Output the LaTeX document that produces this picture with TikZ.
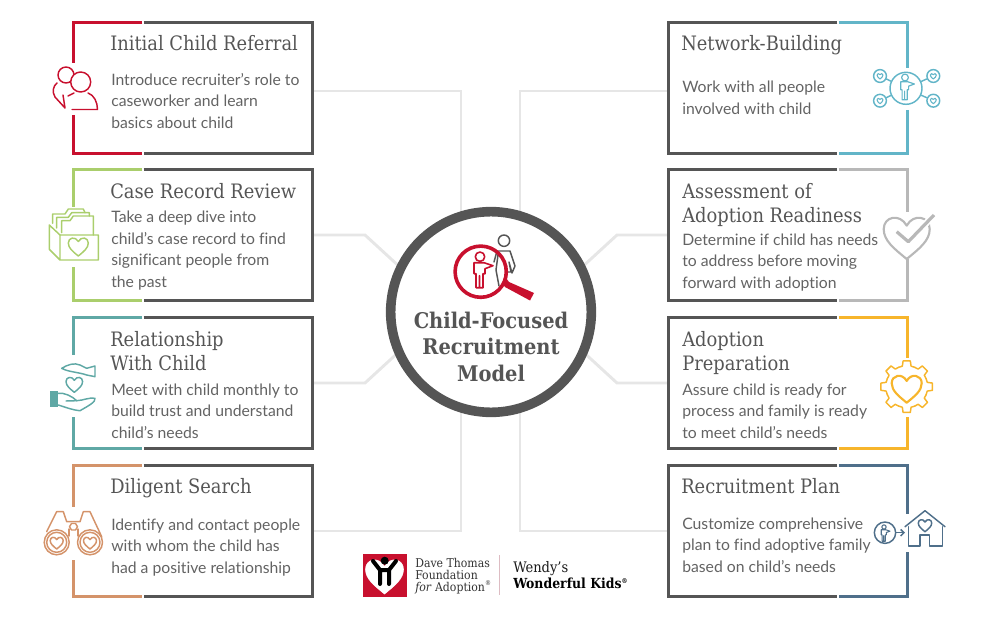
\documentclass[tikz,border=0pt]{standalone}
\usepackage{fontspec}
\usetikzlibrary{backgrounds, arrows.meta}
\setmainfont[Ligatures=NoCommon]{Lato}
\newfontfamily\slabfont{DejaVu Serif Condensed}

\definecolor{inkgray}{HTML}{555555}
\definecolor{textgray}{HTML}{636363}
\definecolor{linkgray}{HTML}{E6E6E6}
\definecolor{cardred}{HTML}{C8102E}
\definecolor{cardgreen}{HTML}{AACE6C}
\definecolor{cardteal}{HTML}{5FA8A5}
\definecolor{cardorange}{HTML}{D4936A}
\definecolor{cardblue}{HTML}{62B5C8}
\definecolor{cardsilver}{HTML}{B8B8B8}
\definecolor{cardyellow}{HTML}{F7B52B}
\definecolor{cardslate}{HTML}{4F6F8A}
\definecolor{rulepink}{HTML}{DDBCC3}

\tikzset{
  card/.style={minimum width=179.25pt, minimum height=97.5pt, inner sep=0pt},
  edge/.style={line width=2.2pt},
  link/.style={line width=2.2pt, draw=linkgray},
  hub/.style={circle, draw=inkgray, fill=white, line width=7.2pt, minimum size=150.5pt},
  cardhead/.style={anchor=base west, inner sep=0pt, align=left, text=inkgray, font=\slabfont\fontsize{14.9}{18}\selectfont},
  cardtext/.style={anchor=base west, inner sep=0pt, align=left, text=textgray, font=\fontsize{11.8}{16.1}\selectfont},
  icon/.style={line width=1.1pt, line join=round, line cap=round},
  sat/.style={circle, draw=cardblue, fill=white, line width=1.1pt, minimum size=9.6pt, inner sep=0pt},
  heart/.pic={
    \draw[pic actions] (0,1) .. controls (-.55,.55) and (-1,.2) .. (-1,-.3) .. controls (-1,-.85) and (-.3,-1) .. (0,-.45) .. controls (.3,-1) and (1,-.85) .. (1,-.3) .. controls (1,.2) and (.55,.55) .. (0,1) -- cycle;
  },
  kid/.pic={
    \draw[pic actions] (0,0) circle (4.7);
    \draw[pic actions] (-6,17) -- (-6,6) -- (4,6) -- (13,9) -- (5,12) -- (5,17) -- (3,17) -- (3,31) -- (-4,31) -- (-4,17) -- cycle (-.5,19) -- (-.5,31);
  }
}

\begin{document}
\begin{tikzpicture}[x=.75pt, y=-.75pt]
\useasboundingbox (0,0) rectangle (1000,617);

% Cards on the left and on the right
\node[card] (referral) at (193,88) {};
\node[card] (review) at (193,235) {};
\node[card] (relation) at (193,383) {};
\node[card] (search) at (193,531) {};
\node[card] (network) at (788,88) {};
\node[card] (readiness) at (788,235) {};
\node[card] (preparation) at (788,383) {};
\node[card] (plan) at (788,531) {};

\coordinate (lsplit) at (143,0);
\coordinate (rsplit) at (838,0);

% Two-coloured frames, the coloured side stops around the icon
\foreach \n/\c/\a/\b in {referral/cardred/63/115, review/cardgreen/207/267, relation/cardteal/355/417, search/cardorange/507/560} {
  \draw[edge, draw=inkgray, shorten <=.5pt, shorten >=.5pt] (lsplit |- \n.north) -- (\n.north east) -- (\n.south east) -- (lsplit |- \n.south);
  \draw[edge, draw=\c, shorten <=.5pt] (lsplit |- \n.north) -- (\n.north west) -- (\n.west |- 0,\a);
  \draw[edge, draw=\c, shorten >=.5pt] (\n.west |- 0,\b) -- (\n.south west) -- (lsplit |- \n.south);
}
\foreach \n/\c/\a/\b in {network/cardblue/68/110, readiness/cardsilver/212/259, preparation/cardyellow/358/417, plan/cardslate/514/552} {
  \draw[edge, draw=inkgray, shorten <=.5pt, shorten >=.5pt] (rsplit |- \n.north) -- (\n.north west) -- (\n.south west) -- (rsplit |- \n.south);
  \draw[edge, draw=\c, shorten <=.5pt] (rsplit |- \n.north) -- (\n.north east) -- (\n.east |- 0,\a);
  \draw[edge, draw=\c, shorten >=.5pt] (\n.east |- 0,\b) -- (\n.south east) -- (rsplit |- \n.south);
}

% Centre
\node[hub] (hub) at (491,312) {};
\node[align=center, inner sep=0pt, anchor=base, text=inkgray, font=\slabfont\bfseries\fontsize{16.2}{19.6}\selectfont] (hubtext) at (491,381) {Child-Focused\\Recruitment\\Model};

% Bends and ends of the light connectors, they end behind the hub
\coordinate (referralbend) at (461,91);
\coordinate (referralend) at (461,250);
\coordinate (reviewbend) at (365,235);
\coordinate (reviewend) at (402,269);
\coordinate (relationbend) at (365,383);
\coordinate (relationend) at (402,349);
\coordinate (searchbend) at (461,531);
\coordinate (searchend) at (461,380);
\coordinate (networkbend) at (520,91);
\coordinate (networkend) at (520,250);
\coordinate (readinessbend) at (617,235);
\coordinate (readinessend) at (580,269);
\coordinate (preparationbend) at (617,383);
\coordinate (preparationend) at (580,349);
\coordinate (planbend) at (520,531);
\coordinate (planend) at (520,380);

\begin{pgfonlayer}{background}
\foreach \n in {referral, review, relation, search} {
  \draw[link] (\n.east |- \n bend) -- (\n bend) -- (\n end);
}
\foreach \n in {network, readiness, preparation, plan} {
  \draw[link] (\n.west |- \n bend) -- (\n bend) -- (\n end);
}
\end{pgfonlayer}

% Texts of the cards
\node[cardhead] (referralhead) at (110,51) {Initial Child Referral};
\node[cardtext] (referraltext) at (111,128) {Introduce recruiter’s role to\\caseworker and learn\\basics about child};
\node[cardhead] (reviewhead) at (110,198) {Case Record Review};
\node[cardtext] (reviewtext) at (111,287) {Take a deep dive into\\child’s case record to find\\significant people from\\the past};
\node[cardhead] (relationhead) at (110,370) {Relationship\\With Child};
\node[cardtext] (relationtext) at (111,438) {Meet with child monthly to\\build trust and understand\\child’s needs};
\node[cardhead] (searchhead) at (110,493) {Diligent Search};
\node[cardtext] (searchtext) at (111,573) {Identify and contact people\\with whom the child has\\had a positive relationship};
\node[cardhead] (networkhead) at (681,51) {Network-Building};
\node[cardtext] (networktext) at (682,114) {Work with all people\\involved with child};
\node[cardhead] (readinesshead) at (682,222) {Assessment of\\Adoption Readiness};
\node[cardtext] (readinesstext) at (682,288) {Determine if child has needs\\to address before moving\\forward with adoption};
\node[cardhead] (preparationhead) at (682,370) {Adoption\\Preparation};
\node[cardtext] (preparationtext) at (682,438) {Assure child is ready for\\process and family is ready\\to meet child’s needs};
\node[cardhead] (planhead) at (681,493) {Recruitment Plan};
\node[cardtext] (plantext) at (682,572) {Customize comprehensive\\plan to find adoptive family\\based on child’s needs};

% Icon: referral
\begin{scope}[icon, draw=cardred]
\draw (66,75) circle (8);
\draw[fill=white] (80.7,82) circle (10);
\draw (68,96) -- (74,93) (88,93) .. controls (94,95) and (97.5,102) .. (97.5,109.5) -- (72,109.5);
\draw (57,83) .. controls (53,86) and (52,92) .. (55,97) -- (65,108) -- (63,95);
\end{scope}

% Icon: folder
\begin{scope}[icon, draw=cardgreen]
\draw (52.7,223.3) -- (52.7,214) -- (65,214) -- (68.3,209) -- (83.3,209) -- (85,212.7);
\draw (56.7,228) -- (56.7,217.3) -- (68.3,217.3) -- (71.7,212.7) -- (89.3,212.7) -- (89.3,216);
\draw (61.7,232.7) -- (61.7,220.7) -- (70,220.7) -- (73.3,216) -- (93.3,216) -- (93.3,235);
\draw (49.3,225) -- (60,235) -- (98.3,235) -- (98.3,260) -- (60,260) -- (49.3,249.3) -- cycle (60,235) -- (60,260);
\pic[scale=10] at (78.3,246) {heart};
\end{scope}

% Icon: hands
\begin{scope}[icon, draw=cardteal]
\draw (61.7,368.3) .. controls (68,364.5) and (74,362.5) .. (80,365) -- (86.7,368.3) -- (95,366) -- (95,376.7) -- (86.7,375) .. controls (78,372) and (68,372) .. (61.7,368.3) -- cycle;
\pic[scale=8.3] at (74.3,384) {heart};
\fill[cardteal] (50,390.7) rectangle (58.3,406.7);
\draw (58.3,393.3) .. controls (64,392.5) and (72,396) .. (76.7,400.7) .. controls (83,400.5) and (90,397) .. (95,398.3) .. controls (96,402) and (88,406) .. (80,410.7) .. controls (72,410) and (65,407) .. (58.3,405);
\draw (66,401) -- (76.7,400.7);
\end{scope}

% Icon: binoculars
\begin{scope}[icon, draw=cardorange]
\draw (46.7,531.7) -- (56.7,511.7) -- (63.3,511.7) -- (66.7,521.7) -- (80,521.7) -- (83.3,511.7) -- (90,511.7) -- (101.7,536.7);
\draw (69,529) -- (69,536) (78,529) -- (78,536);
\foreach \x in {56.7, 90} {
  \draw[fill=white] (\x,542.3) circle (12.5);
  \draw (\x,542.3) circle (10);
  \pic[scale=6.5] at (\x,542.5) {heart};
}
\draw (69.5,526.7) -- (71.5,523.5) -- (75.5,523.5) -- (77.5,526.7) -- (75.5,530) -- (71.5,530) -- cycle;
\end{scope}

% Icon: network
\node[circle, draw=cardblue, line width=1.1pt, minimum size=24pt, inner sep=0pt] (netperson) at (906,88.3) {};
\foreach \n/\x/\y in {satone/880/76, sattwo/933.3/76, satthree/880/100.7, satfour/933.3/100.7} {
  \node[sat] (\n) at (\x,\y) {};
  \draw[icon, draw=cardblue] (\n) -- (netperson);
  \pic[icon, draw=cardblue, scale=3, line width=.8pt] at (\x,\y) {heart};
}
\pic[icon, draw=cardblue, scale=.72, line width=.9pt] at (905,77.5) {kid};

% Icon: heart with check
\pic[icon, draw=cardsilver, scale=23, line width=1.6pt] at (906.7,236) {heart};
\draw[icon, draw=white, line width=5pt, line cap=butt] (896.7,231.7) -- (908.3,241.7) -- (934,215);
\draw[icon, draw=cardsilver, line width=2.4pt, line cap=butt] (896.7,231.7) -- (908.3,241.7) -- (934,215);

% Icon: gear with heart
\begin{scope}[icon, draw=cardyellow, shift={(906.7,386.7)}]
\foreach \a in {0,45,...,315} {
  \draw (\a-22.5:21) -- (\a-12:21) -- (\a-8:26) -- (\a+8:26) -- (\a+12:21) -- (\a+22.5:21);
}
\pic[line width=1.6pt, scale=15] at (0,1) {heart};
\end{scope}

% Icon: person to house
\begin{scope}[icon, draw=cardslate]
\draw (905,526.7) -- (925,510.7) -- (945,526.7);
\draw (908.3,526.7) -- (908.3,546) -- (920,546) -- (920,535) -- (929.3,535) -- (929.3,546) -- (942.7,546) -- (942.7,526.7);
\pic[scale=6.7] at (925,525) {heart};
\node[circle, draw=cardslate, line width=1.1pt, minimum size=16pt, inner sep=0pt] (planperson) at (885,532.7) {};
\coordinate (planhouse) at (905,532.7);
\draw[-{Straight Barb[length=2.5pt]}] (planperson) -- (planhouse);
\pic[scale=.46, line width=.8pt] at (884,527) {kid};
\end{scope}

% Icon in the hub
\begin{scope}[icon, draw=inkgray]
\draw (504,240.7) circle (5.7);
\draw (494,262) -- (497,251) -- (510,251) -- (515,266) -- (512,273) -- (509,262) -- (511,272) -- (506,272);
\draw (498,255) -- (496,270) -- (499,286);
\end{scope}
\draw[icon, draw=cardred, line width=2.7pt] (480.7,271.7) circle (25.6);
\fill[cardred] (506,278) -- (509,282) -- (534,293) -- (530,300.5) -- (505,287) -- (502,283) -- cycle;
\pic[icon, draw=cardred, line width=1.2pt] at (480,256.7) {kid};

% Logo line
\fill[cardred] (362.7,554) rectangle (406.7,596.7);
\pic[fill=white, draw=white, scale=19] at (384.5,575) {heart};
\fill[black] (384.7,560.7) circle (4);
\draw[black, line width=3pt, line join=round, line cap=round] (373,561) -- (380,570) -- (389,570) -- (396,561) (380,570) -- (380,584) (389,570) -- (389,584);
\node[inner sep=0pt, anchor=base west, font=\fontsize{9.1}{9}\selectfont\slabfont, text=black!80] (dave) at (415,567) {Dave Thomas};
\node[inner sep=0pt, anchor=base west, font=\fontsize{9.1}{9}\selectfont\slabfont, text=black!80] (foundation) at (415,579) {Foundation};
\node[inner sep=0pt, anchor=base west, font=\fontsize{9.1}{9}\selectfont\slabfont, text=black!80] (adoption) at (415,591) {\textit{for} Adoption\textsuperscript{\tiny ®}};
\draw[line width=1pt, draw=rulepink] (499.7,555) -- (499.7,595);
\node[inner sep=0pt, anchor=base west, font=\fontsize{10.9}{9}\selectfont\slabfont, text=black!90] (wendy) at (513,572) {Wendy’s};
\node[inner sep=0pt, anchor=base west, font=\fontsize{10.4}{9}\selectfont\slabfont\bfseries, text=black] (wonderful) at (513,588) {Wonderful Kids\textsuperscript{\tiny ®}};

\end{tikzpicture}
\end{document}
